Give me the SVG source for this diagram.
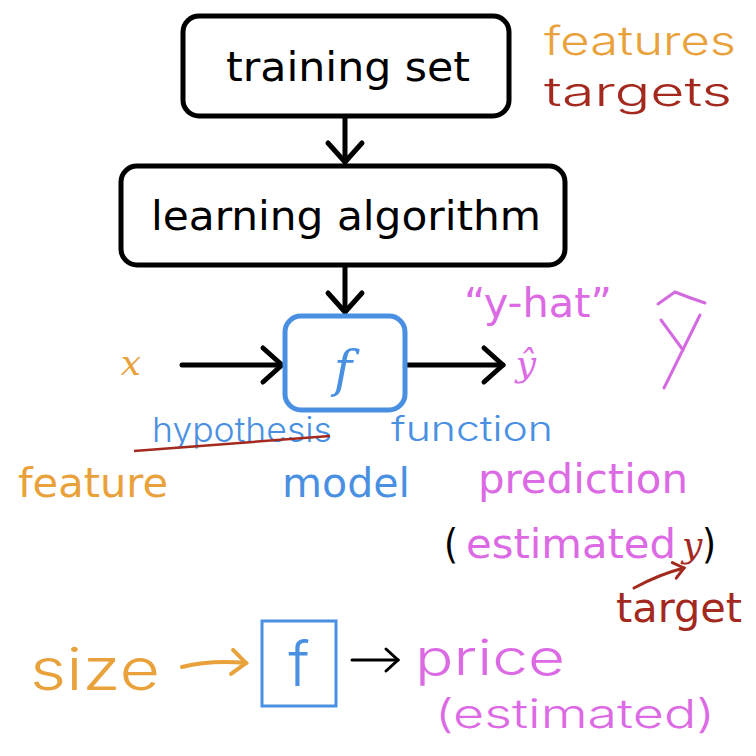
<svg xmlns="http://www.w3.org/2000/svg" width="756" height="756" viewBox="0 0 756 756">
<defs>
<style>
.box{fill:#fff;stroke:#000;stroke-width:5}
.fbox{fill:#fff;stroke:#4a90e2;stroke-width:5}
.lbl{font-family:"DejaVu Sans Condensed","DejaVu Sans","Liberation Sans",sans-serif;font-stretch:condensed;font-size:40px}
.hand{font-family:"Inter","Lato","DejaVu Sans",sans-serif;font-weight:300}
.math{font-family:"DejaVu Serif","Liberation Serif",serif;font-style:italic}
.conn{fill:none;stroke:#000;stroke-width:5;stroke-linecap:round}
.orange{fill:#e9a23b}
.red{fill:#a3291f}
.pink{fill:#dc6ae4}
.blue{fill:#4a90e2}
</style>
<marker id="ah" markerUnits="userSpaceOnUse" markerWidth="40" markerHeight="40" refX="0" refY="0" orient="auto" overflow="visible">
<path d="M-19,-17 L0,0 L-19,17" fill="none" stroke="#000" stroke-width="5" stroke-linecap="round" stroke-linejoin="round"/>
</marker>
<marker id="ahs" markerUnits="userSpaceOnUse" markerWidth="30" markerHeight="30" refX="0" refY="0" orient="auto" overflow="visible">
<path d="M-12,-11 L0,0 L-12,11" fill="none" stroke="#000" stroke-width="3" stroke-linecap="round"/>
</marker>
<marker id="aho" markerUnits="userSpaceOnUse" markerWidth="30" markerHeight="30" refX="0" refY="0" orient="auto" overflow="visible">
<path d="M-14,-12 L0,0 L-14,12" fill="none" stroke="#e9a23b" stroke-width="4" stroke-linecap="round"/>
</marker>
<marker id="ahr" markerUnits="userSpaceOnUse" markerWidth="30" markerHeight="30" refX="0" refY="0" orient="auto" overflow="visible">
<path d="M-10,-8 L0,0 L-10,8" fill="none" stroke="#a3291f" stroke-width="3" stroke-linecap="round"/>
</marker>
</defs>
<rect width="756" height="756" fill="#fff"/>

<g id="connectors">
<line class="conn" x1="345" y1="118" x2="345" y2="162" marker-end="url(#ah)"/>
<line class="conn" x1="345" y1="267" x2="345" y2="312" marker-end="url(#ah)"/>
<line class="conn" x1="182" y1="365" x2="282" y2="365" marker-end="url(#ah)"/>
<line class="conn" x1="406" y1="365" x2="503" y2="365" marker-end="url(#ah)"/>
<path d="M182,667 Q210,660 246,663" fill="none" stroke="#e9a23b" stroke-width="4" stroke-linecap="round" marker-end="url(#aho)"/>
<line x1="352" y1="660" x2="398" y2="660" stroke="#000" stroke-width="3" stroke-linecap="round" marker-end="url(#ahs)"/>
<path d="M634,588 Q660,574 684,568" fill="none" stroke="#a3291f" stroke-width="3" stroke-linecap="round" marker-end="url(#ahr)"/>
</g>

<g id="training-set">
<rect class="box" x="183" y="16" width="326" height="100" rx="16"/>
<text class="lbl" x="348" y="81" text-anchor="middle" textLength="244" lengthAdjust="spacingAndGlyphs">training set</text>
</g>

<g id="learning-algorithm">
<rect class="box" x="121" y="166" width="444" height="99" rx="16"/>
<text class="lbl" x="346" y="230" text-anchor="middle" textLength="390" lengthAdjust="spacingAndGlyphs">learning algorithm</text>
</g>

<g id="f-model">
<rect class="fbox" x="285" y="316" width="120" height="94" rx="16"/>
<text class="math blue" x="343" y="386" font-size="50" text-anchor="middle">f</text>
</g>

<g id="x-input">
<text class="math orange" x="131" y="375" font-size="36" text-anchor="middle">x</text>
</g>

<g id="yhat-output">
<text class="math pink" x="526" y="376" font-size="36" text-anchor="middle">ŷ</text>
<text class="lbl pink" x="538" y="317" text-anchor="middle" textLength="148" lengthAdjust="spacingAndGlyphs">“y-hat”</text>
<g fill="none" stroke="#d46ae0" stroke-width="3" stroke-linecap="round">
<path d="M658,304 L675,292 Q690,298 705,303"/>
<path d="M661,320 L683,350"/>
<path d="M700,315 L664,388"/>
</g>
</g>

<g id="features-targets">
<text class="hand orange" x="640" y="55" font-size="40" text-anchor="middle" textLength="192" lengthAdjust="spacingAndGlyphs">features</text>
<text class="hand red" x="638" y="106" font-size="40" text-anchor="middle" textLength="188" lengthAdjust="spacingAndGlyphs">targets</text>
</g>

<g id="labels-row">
<text class="hand blue" x="242" y="442" font-size="34" text-anchor="middle" textLength="180" lengthAdjust="spacingAndGlyphs">hypothesis</text>
<path d="M134,451 L330,436" stroke="#a3291f" stroke-width="2.5" fill="none"/>
<text class="hand blue" x="472" y="441" font-size="34" text-anchor="middle" textLength="162" lengthAdjust="spacingAndGlyphs">function</text>
<text class="lbl orange" x="93" y="497" text-anchor="middle" textLength="150" lengthAdjust="spacingAndGlyphs">feature</text>
<text class="lbl blue" x="346" y="497" text-anchor="middle" textLength="128" lengthAdjust="spacingAndGlyphs">model</text>
<text class="lbl pink" x="583" y="493" text-anchor="middle" textLength="210" lengthAdjust="spacingAndGlyphs">prediction</text>
</g>

<g id="estimated-y">
<text class="lbl" x="444" y="558">(</text>
<text class="lbl pink" x="466" y="558" textLength="210" lengthAdjust="spacingAndGlyphs">estimated</text>
<text class="math red" x="682" y="557" font-size="36">y</text>
<text class="lbl" x="702" y="558">)</text>
<text class="lbl red" x="679" y="622" text-anchor="middle" textLength="126" lengthAdjust="spacingAndGlyphs">target</text>
</g>

<g id="size-example">
<text class="hand orange" x="95" y="690" font-size="58" text-anchor="middle" textLength="130" lengthAdjust="spacingAndGlyphs">size</text>
</g>

<g id="f-small">
<rect x="262" y="621" width="74" height="85" fill="#fff" stroke="#4a90e2" stroke-width="3"/>
<text class="hand blue" x="299" y="686" font-size="62" text-anchor="middle">f</text>
</g>

<g id="price-example">
<text class="hand pink" x="490" y="675" font-size="50" text-anchor="middle" textLength="150" lengthAdjust="spacingAndGlyphs">price</text>
<text class="hand pink" x="575" y="728" font-size="40" text-anchor="middle" textLength="280" lengthAdjust="spacingAndGlyphs">(estimated)</text>
</g>
</svg>
